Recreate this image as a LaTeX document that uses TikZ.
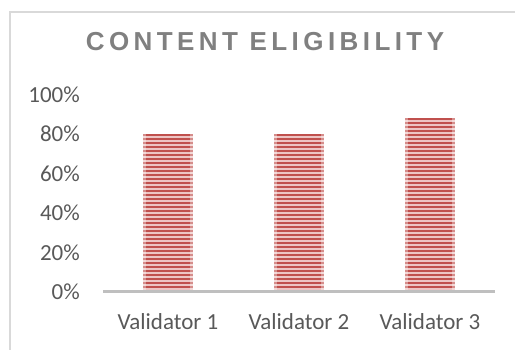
\documentclass[tikz,border=0pt]{standalone}
\usepackage{fontspec}
\setmainfont{Carlito}
\newfontfamily\titlefont[LetterSpace=17]{Liberation Sans}
\definecolor{barred}{HTML}{C0504D}
\definecolor{barpink}{HTML}{EDC5C4}
\definecolor{axisgray}{HTML}{BFBFBF}
\definecolor{framegray}{HTML}{D9D9D9}
\definecolor{labelgray}{HTML}{595959}
\definecolor{titlegray}{HTML}{808080}
\begin{document}
\begin{tikzpicture}[x=1pt, y=-1pt,
  ticklabel/.style={anchor=east, inner sep=0pt, text=labelgray, font=\fontsize{23}{27}\selectfont},
  catlabel/.style={inner sep=0pt, text=labelgray, font=\fontsize{23}{27}\selectfont}]
\useasboundingbox (0,0) rectangle (515,350);
\draw[framegray, line width=1.5pt] (10,350) -- (10,12) -- (515,12);
\node[text=titlegray, font={\fontsize{26}{30}\titlefont\bfseries}] (title) at (265,42) {CONTENT ELIGIBILITY};
% value axis labels
\foreach \p in {0,20,...,100}
\node[ticklabel] (tick\p) at (80, 292-1.975*\p) {\p\%};
% striped bars
\foreach \x/\v/\n in {168/80/1, 299/80/2, 430/88/3} {
\fill[barpink] (\x-25,292) rectangle (\x+25,292-1.975*\v);
\begin{scope}
\clip (\x-25,292) rectangle (\x+25,292-1.975*\v);
\foreach \s in {0,4,...,176}
\fill[barred] (\x-25,292-\s) rectangle (\x+25,290-\s);
\fill[white, opacity=.35] (\x-25,292) rectangle (\x-22,100);
\fill[white, opacity=.35] (\x+22,292) rectangle (\x+25,100);
\end{scope}
\node[catlabel] (cat\n) at (\x,322) {Validator \n};
}
\coordinate (axisL) at (103,292);
\coordinate (axisR) at (495,292);
\draw[axisgray, line width=3pt] (axisL) -- (axisR);
\end{tikzpicture}
\end{document}
